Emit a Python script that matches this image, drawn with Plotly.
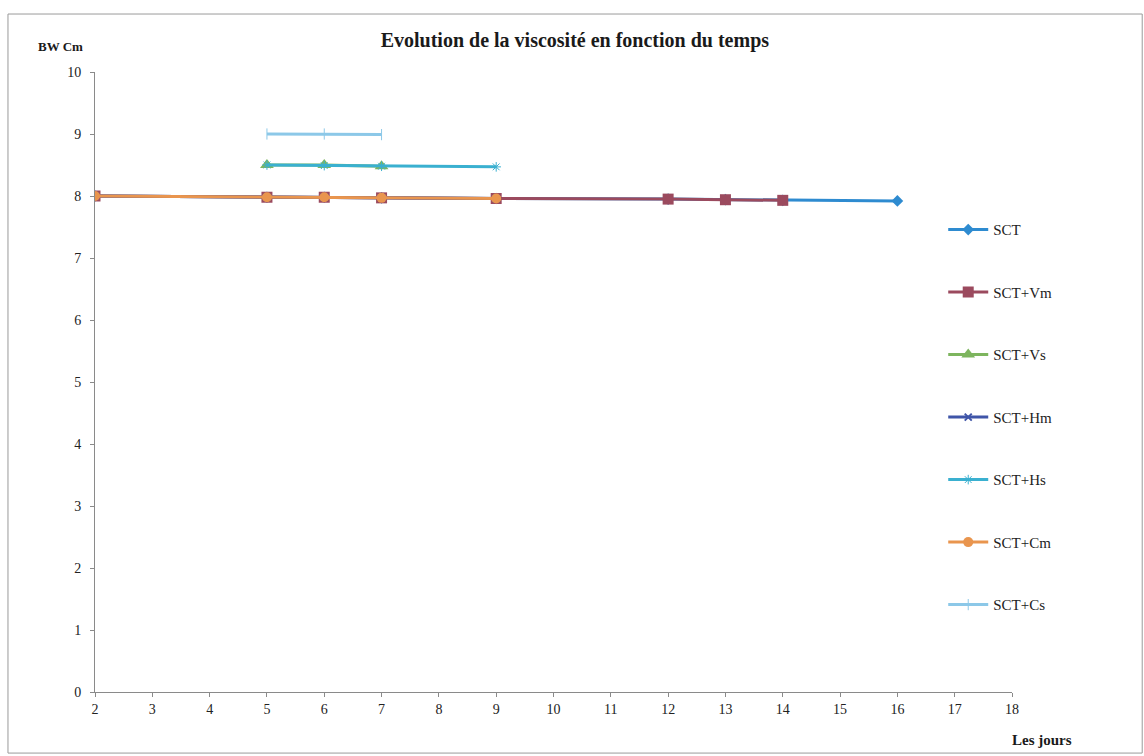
import plotly.graph_objects as go

# Days of measurement and viscosity readings (BW cm) for each sample
days_sct = [2, 5, 6, 7, 9, 12, 13, 14, 16]
sct = [8.0, 7.98, 7.98, 7.97, 7.96, 7.95, 7.94, 7.93, 7.92]

days_vm = [2, 5, 6, 7, 9, 12, 13, 14]
sct_vm = [8.0, 7.98, 7.98, 7.97, 7.96, 7.95, 7.94, 7.93]

days_vs = [5, 6, 7]
sct_vs = [8.5, 8.5, 8.48]

days_hm = [2, 5, 6, 7, 9]
sct_hm = [8.0, 7.98, 7.98, 7.97, 7.96]

days_hs = [5, 6, 7, 9]
sct_hs = [8.5, 8.49, 8.48, 8.47]

days_cm = [2, 5, 6, 7, 9]
sct_cm = [8.0, 7.98, 7.98, 7.97, 7.96]

days_cs = [5, 6, 7]
sct_cs = [9.0, 9.0, 8.99]

x_ticks = list(range(2, 19))
y_ticks = list(range(0, 11))

SERIF = "Liberation Serif"

series = [
    ("SCT", days_sct, sct, "#2E8BD0", dict(symbol="diamond", size=9)),
    ("SCT+Vm", days_vm, sct_vm, "#9B4A5E", dict(symbol="square", size=11)),
    ("SCT+Vs", days_vs, sct_vs, "#7DB55E", dict(symbol="triangle-up", size=12)),
    ("SCT+Hm", days_hm, sct_hm, "#3F55A8", dict(symbol="x-thin", size=7,
                                                  line=dict(width=2, color="#3F55A8"))),
    ("SCT+Hs", days_hs, sct_hs, "#3AB0D0", dict(symbol="asterisk", size=8,
                                                  line=dict(width=1, color="#3AB0D0"))),
    ("SCT+Cm", days_cm, sct_cm, "#E9954E", dict(symbol="circle", size=10)),
    ("SCT+Cs", days_cs, sct_cs, "#8CC8E8", dict(symbol="line-ns", size=8,
                                                  line=dict(width=1, color="#8CC8E8"))),
]

fig = go.Figure()
for i, (name, xs, ys, color, marker) in enumerate(series):
    fig.add_trace(go.Scatter(
        x=xs, y=ys, name=name, mode="lines+markers",
        line=dict(color=color, width=3),
        marker=dict(color=color, **marker),
        legendgroup=f"g{i}",
    ))

# Chart frame
fig.add_shape(type="rect", xref="paper", yref="paper",
              x0=-0.0949, x1=1.142, y0=-0.0985, y1=1.0935,
              line=dict(color="#9A9A9A", width=1), fillcolor="rgba(0,0,0,0)")

fig.update_layout(
    width=1144, height=756,
    margin=dict(l=95, r=132, t=72, b=64),
    paper_bgcolor="white", plot_bgcolor="white",
    font=dict(family=SERIF, size=14, color="#222222"),
    title=dict(text="<b>Evolution de la viscosité en fonction du temps</b>",
               x=0.5025, xanchor="center", y=0.947, yanchor="middle",
               font=dict(family=SERIF, size=20, color="#1a1a1a")),
    showlegend=True,
    legend=dict(x=0.925, xanchor="left", y=0.772, yanchor="top",
                traceorder="grouped", tracegroupgap=40,
                font=dict(family=SERIF, size=15, color="#222222"),
                bgcolor="rgba(0,0,0,0)", itemwidth=40),
    annotations=[
        dict(text="<b>BW Cm</b>", xref="paper", yref="paper",
             x=-0.064, y=1.0406, xanchor="left", yanchor="middle",
             showarrow=False, font=dict(family=SERIF, size=13, color="#1a1a1a")),
        dict(text="<b>Les jours</b>", xref="paper", yref="paper",
             x=0.998, y=-0.078, xanchor="left", yanchor="middle",
             showarrow=False, font=dict(family=SERIF, size=15, color="#1a1a1a")),
    ],
)

fig.update_xaxes(range=[2, 18], tickvals=x_ticks, ticktext=[str(v) for v in x_ticks],
                 showgrid=False, zeroline=False, showline=True,
                 linecolor="#8A8A8A", linewidth=1,
                 ticks="outside", ticklen=4, tickcolor="#8A8A8A",
                 tickfont=dict(family=SERIF, size=14, color="#222222"))
fig.update_yaxes(range=[0, 10], tickvals=y_ticks, ticktext=[str(v) for v in y_ticks],
                 showgrid=False, zeroline=False, showline=True,
                 linecolor="#8A8A8A", linewidth=1,
                 ticks="outside", ticklen=4, tickcolor="#8A8A8A",
                 ticklabelstandoff=6,
                 tickfont=dict(family=SERIF, size=14, color="#222222"))

fig.write_html("out.html")
